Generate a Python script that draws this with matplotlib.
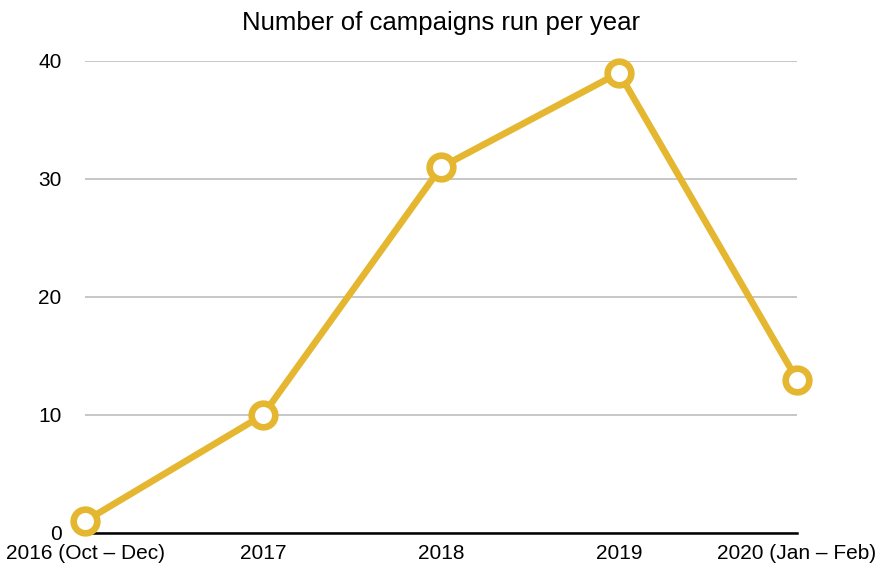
import matplotlib
matplotlib.use("Agg")
import matplotlib.pyplot as plt

categories = ["2016 (Oct – Dec)", "2017", "2018", "2019", "2020 (Jan – Feb)"]
campaigns = [1, 10, 31, 39, 13]
y_ticks = [0, 10, 20, 30, 40]

plt.rcParams['font.family'] = ['Liberation Sans', 'DejaVu Sans']

fig = plt.figure(figsize=(8.77, 5.68), dpi=100)
ax = fig.add_axes([85/877, 35/568, (797-85)/877, (533-61)/568])

x = list(range(len(categories)))
gold = "#E5B730"
ax.plot(x, campaigns, color=gold, lw=4.8, marker="o", markersize=17,
        markerfacecolor="white", markeredgecolor=gold, markeredgewidth=4.8,
        clip_on=False, zorder=5, solid_capstyle="round")

ax.set_xlim(0, len(categories) - 1)
ax.set_ylim(0, 40)
ax.set_yticks(y_ticks)
ax.set_xticks(x)
ax.set_xticklabels(categories)
ax.grid(axis="y", color="#BDBDBD", lw=1.2)
ax.set_axisbelow(True)
for s in ["top", "right", "left"]:
    ax.spines[s].set_visible(False)
ax.spines["bottom"].set_color("black")
ax.spines["bottom"].set_linewidth(1.8)
ax.spines["bottom"].set_zorder(3)
ax.tick_params(axis="both", length=0, labelsize=15, colors="black")
ax.tick_params(axis="y", pad=17)
ax.tick_params(axis="x", pad=8)
ax.set_title("Number of campaigns run per year", fontsize=18.5, pad=22)

fig.savefig("out.png", dpi=100)
